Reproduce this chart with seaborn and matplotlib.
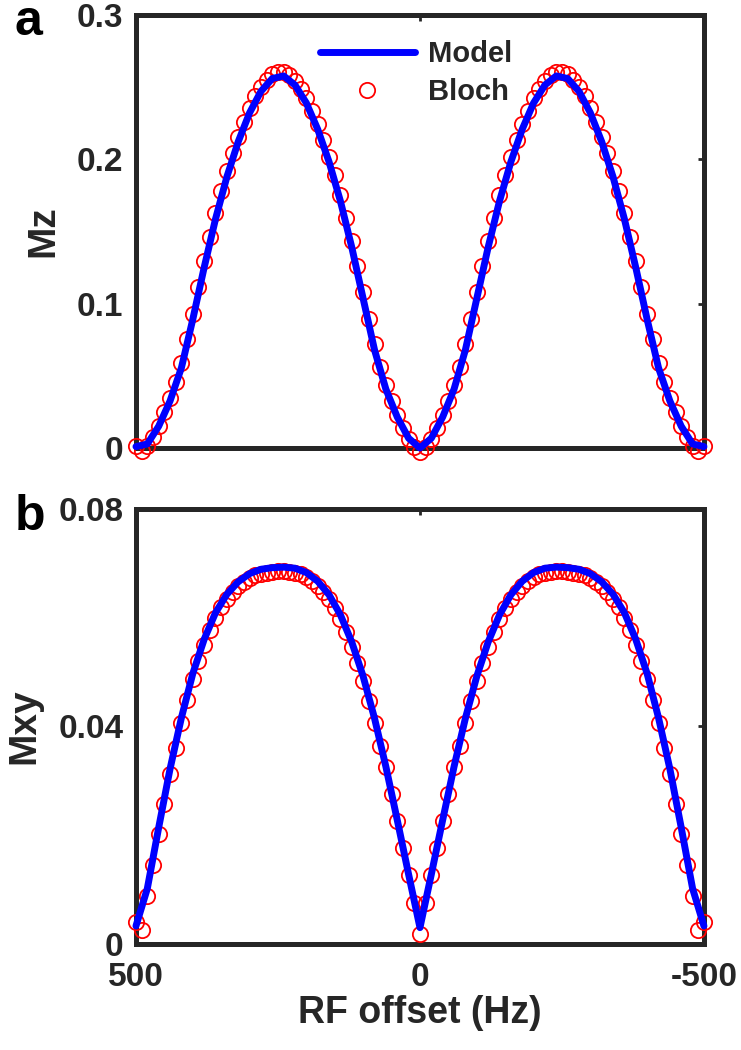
import matplotlib
matplotlib.use("Agg")
import matplotlib.pyplot as plt
import seaborn as sns

# RF offset grids (Hz)
freq_model = [500, 480, 460, 440, 420, 400, 380, 360, 340, 320,
              300, 280, 260, 240, 220, 200, 180, 160, 140, 120,
              100, 80, 60, 40, 20, 0, -20, -40, -60, -80,
              -100, -120, -140, -160, -180, -200, -220, -240, -260, -280,
              -300, -320, -340, -360, -380, -400, -420, -440, -460, -480, -500]
freq_bloch = [500, 490, 480, 470, 460, 450, 440, 430, 420, 410,
              400, 390, 380, 370, 360, 350, 340, 330, 320, 310,
              300, 290, 280, 270, 260, 250, 240, 230, 220, 210,
              200, 190, 180, 170, 160, 150, 140, 130, 120, 110,
              100, 90, 80, 70, 60, 50, 40, 30, 20, 10,
              0,
              -10, -20, -30, -40, -50, -60, -70, -80, -90, -100,
              -110, -120, -130, -140, -150, -160, -170, -180, -190, -200,
              -210, -220, -230, -240, -250, -260, -270, -280, -290, -300,
              -310, -320, -330, -340, -350, -360, -370, -380, -390, -400,
              -410, -420, -430, -440, -450, -460, -470, -480, -490, -500]

# panel a: Mz
mz_model = [0.0010, 0.0028, 0.0151, 0.0326, 0.0556, 0.0891, 0.1250, 0.1586, 0.1878, 0.2122,
            0.2322, 0.2471, 0.2560, 0.2578, 0.2515, 0.2390, 0.2208, 0.1982, 0.1710, 0.1390,
            0.1035, 0.0680, 0.0408, 0.0215, 0.0068, 0.0000, 0.0068, 0.0215, 0.0408, 0.0680,
            0.1035, 0.1390, 0.1710, 0.1982, 0.2208, 0.2390, 0.2515, 0.2578, 0.2560, 0.2471,
            0.2322, 0.2122, 0.1878, 0.1586, 0.1250, 0.0891, 0.0556, 0.0326, 0.0151, 0.0028, 0.0010]
mz_bloch = [0.0012, -0.0020, 0.0016, 0.0075, 0.0156, 0.0247, 0.0347, 0.0460, 0.0592, 0.0753,
            0.0932, 0.1114, 0.1293, 0.1465, 0.1627, 0.1778, 0.1916, 0.2041, 0.2156, 0.2261,
            0.2355, 0.2436, 0.2501, 0.2553, 0.2589, 0.2608, 0.2607, 0.2585, 0.2545, 0.2490,
            0.2422, 0.2338, 0.2242, 0.2135, 0.2018, 0.1890, 0.1750, 0.1596, 0.1432, 0.1258,
            0.1078, 0.0895, 0.0718, 0.0560, 0.0435, 0.0325, 0.0228, 0.0138, 0.0060, 0.0005,
            -0.0025,
            0.0005, 0.0060, 0.0138, 0.0228, 0.0325, 0.0435, 0.0560, 0.0718, 0.0895, 0.1078,
            0.1258, 0.1432, 0.1596, 0.1750, 0.1890, 0.2018, 0.2135, 0.2242, 0.2338, 0.2422,
            0.2490, 0.2545, 0.2585, 0.2607, 0.2608, 0.2589, 0.2553, 0.2501, 0.2436, 0.2355,
            0.2261, 0.2156, 0.2041, 0.1916, 0.1778, 0.1627, 0.1465, 0.1293, 0.1114, 0.0932,
            0.0753, 0.0592, 0.0460, 0.0347, 0.0247, 0.0156, 0.0075, 0.0016, -0.0020, 0.0012]

# panel b: Mxy
mxy_model = [0.0033, 0.0102, 0.0214, 0.0322, 0.0416, 0.0497, 0.0560, 0.0609, 0.0643, 0.0666,
             0.0681, 0.0689, 0.0692, 0.0693, 0.0691, 0.0683, 0.0667, 0.0642, 0.0605, 0.0555,
             0.0492, 0.0415, 0.0326, 0.0228, 0.0128, 0.0030, 0.0128, 0.0228, 0.0326, 0.0415,
             0.0492, 0.0555, 0.0605, 0.0642, 0.0667, 0.0683, 0.0691, 0.0693, 0.0692, 0.0689,
             0.0681, 0.0666, 0.0643, 0.0609, 0.0560, 0.0497, 0.0416, 0.0322, 0.0214, 0.0102, 0.0033]
mxy_bloch = [0.0041, 0.0026, 0.0088, 0.0145, 0.0202, 0.0258, 0.0312, 0.0361, 0.0406, 0.0448,
             0.0487, 0.0521, 0.0550, 0.0577, 0.0600, 0.0619, 0.0635, 0.0647, 0.0658, 0.0666,
             0.0673, 0.0678, 0.0681, 0.0683, 0.0684, 0.0685, 0.0685, 0.0684, 0.0683, 0.0680,
             0.0675, 0.0668, 0.0659, 0.0648, 0.0634, 0.0617, 0.0597, 0.0574, 0.0546, 0.0516,
             0.0483, 0.0446, 0.0406, 0.0364, 0.0325, 0.0276, 0.0227, 0.0177, 0.0126, 0.0075,
             0.0018,
             0.0075, 0.0126, 0.0177, 0.0227, 0.0276, 0.0325, 0.0364, 0.0406, 0.0446, 0.0483,
             0.0516, 0.0546, 0.0574, 0.0597, 0.0617, 0.0634, 0.0648, 0.0659, 0.0668, 0.0675,
             0.0680, 0.0683, 0.0684, 0.0685, 0.0685, 0.0684, 0.0683, 0.0681, 0.0678, 0.0673,
             0.0666, 0.0658, 0.0647, 0.0635, 0.0619, 0.0600, 0.0577, 0.0550, 0.0521, 0.0487,
             0.0448, 0.0406, 0.0361, 0.0312, 0.0258, 0.0202, 0.0145, 0.0088, 0.0026, 0.0041]

x_ticks = [500, 0, -500]
x_ticklabels = ["500", "0", "-500"]
mz_ticks = [0, 0.1, 0.2, 0.3]
mz_ticklabels = ["0", "0.1", "0.2", "0.3"]
mxy_ticks = [0, 0.04, 0.08]
mxy_ticklabels = ["0", "0.04", "0.08"]

sns.set_style("white")
plt.rcParams["font.family"] = ["Liberation Sans", "DejaVu Sans"]
plt.rcParams["font.weight"] = "bold"
plt.rcParams["axes.labelweight"] = "bold"

DARK = "#262626"

fig = plt.figure(figsize=(7.41, 10.5), dpi=100)
ax_a = fig.add_axes([0.1835, 0.5733, 0.7665, 0.4124])
ax_b = fig.add_axes([0.1835, 0.1010, 0.7665, 0.4143])


def draw_panel(ax, y_model, y_bloch, ylim, yticks, yticklabels, ylabel):
    sns.lineplot(x=freq_bloch, y=y_bloch, ax=ax, linestyle="none", marker="o",
                 markersize=11, markerfacecolor="none", markeredgecolor="red",
                 markeredgewidth=1.3, label="Bloch", estimator=None, sort=False,
                 clip_on=False, zorder=3)
    sns.lineplot(x=freq_model, y=y_model, ax=ax, color="blue", linewidth=5,
                 label="Model", estimator=None, sort=False, clip_on=False, zorder=4)
    ax.set_xlim(500, -500)
    ax.set_ylim(*ylim)
    ax.set_xticks(x_ticks)
    ax.set_xticklabels(x_ticklabels)
    ax.set_yticks(yticks)
    ax.set_yticklabels(yticklabels)
    ax.tick_params(direction="in", length=4, width=2, color=DARK,
                   top=True, right=True, labelsize=24, labelcolor=DARK)
    ax.tick_params(axis="y", pad=9)
    ax.tick_params(axis="x", pad=13)
    for sp in ax.spines.values():
        sp.set_linewidth(3.6)
        sp.set_color(DARK)
        sp.set_zorder(2.5)
    ax.set_ylabel(ylabel, fontsize=28, fontweight="bold", color=DARK)
    ax.set_xlabel("")


draw_panel(ax_a, mz_model, mz_bloch, (0, 0.3), mz_ticks, mz_ticklabels, "Mz")
draw_panel(ax_b, mxy_model, mxy_bloch, (0, 0.08), mxy_ticks, mxy_ticklabels, "Mxy")

ax_a.tick_params(axis="x", labelbottom=False)
ax_a.yaxis.set_label_coords(-0.132, 0.5)
ax_b.yaxis.set_label_coords(-0.1655, 0.5)
ax_b.set_xlabel("RF offset (Hz)", fontsize=27, fontweight="bold", color=DARK)
ax_b.xaxis.set_label_coords(0.5, -0.118)

# legend: Model first, then Bloch
handles, labels = ax_a.get_legend_handles_labels()
order = [labels.index("Model"), labels.index("Bloch")]
ax_a.legend([handles[i] for i in order], [labels[i] for i in order],
            loc="upper left", bbox_to_anchor=(320 / 741, 1 - 40 / 1050),
            bbox_transform=fig.transFigure, frameon=False,
            prop={"weight": "bold", "size": 21}, handlelength=3.25,
            handletextpad=0.45, borderpad=0, borderaxespad=0,
            labelspacing=0.35, numpoints=1)
if ax_b.get_legend() is not None:
    ax_b.get_legend().remove()

fig.text(15 / 741, 1 - 35 / 1050, "a", fontsize=36, fontweight="bold",
         ha="left", va="baseline", color="black")
fig.text(15 / 741, 1 - 530 / 1050, "b", fontsize=36, fontweight="bold",
         ha="left", va="baseline", color="black")

fig.savefig("out.png", dpi=100)
